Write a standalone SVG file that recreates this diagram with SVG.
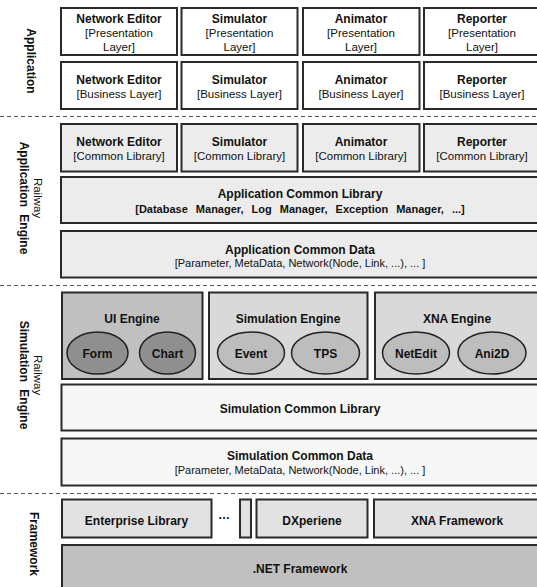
<svg xmlns="http://www.w3.org/2000/svg" width="537" height="587" viewBox="0 0 537 587">
<style>
text{font-family:"Liberation Sans",Arial,sans-serif;fill:#111;text-anchor:middle}
.t{font-size:12px;font-weight:bold}
.s{font-size:11.5px}
.sb{font-size:11px;font-weight:bold;word-spacing:5px}
.x{font-size:11px}
.lbl{font-size:12px;font-weight:bold}
.lbn{font-size:11.5px}
rect{stroke:#2a2a2a;stroke-width:2}
ellipse{stroke:#222;stroke-width:1.5}
.w{fill:#fff}
.g1{fill:#ececec}
.g2{fill:#c0c0c0}
.g3{fill:#d9d9d9}
.g4{fill:#f7f7f7}
.g5{fill:#e2e2e2}
.e1{fill:#8f8f8f}
.e2{fill:#bdbdbd}
.dash{stroke:#555;stroke-width:1.2;stroke-dasharray:4 3;fill:none}
</style>
<g id="separators">
<line class="dash" x1="0" y1="116.5" x2="537" y2="116.5"/>
<line class="dash" x1="0" y1="285.5" x2="537" y2="285.5"/>
<line class="dash" x1="0" y1="493.5" x2="537" y2="493.5"/>
</g>
<g id="layer-labels">
<text class="lbl" transform="translate(27,61) rotate(90)">Application</text>
<text transform="translate(28,198) rotate(90)"><tspan class="lbn" x="0" y="-6">Railway</tspan><tspan class="lbl" x="0" y="8" style="word-spacing:4px">Application Engine</tspan></text>
<text transform="translate(28,375) rotate(90)"><tspan class="lbn" x="0" y="-6">Railway</tspan><tspan class="lbl" x="0" y="8" style="word-spacing:4px">Simulation Engine</tspan></text>
<text class="lbl" transform="translate(30,544) rotate(90)">Framework</text>
</g>
<g id="ne-pres"><rect class="w" x="61" y="8" width="116" height="47"/><text class="t" x="119" y="23">Network Editor</text><text class="s" x="119" y="37">[Presentation</text><text class="s" x="119" y="50.5">Layer]</text></g>
<g id="sim-pres"><rect class="w" x="181.5" y="8" width="116" height="47"/><text class="t" x="239.5" y="23">Simulator</text><text class="s" x="239.5" y="37">[Presentation</text><text class="s" x="239.5" y="50.5">Layer]</text></g>
<g id="ani-pres"><rect class="w" x="303" y="8" width="116.5" height="47"/><text class="t" x="361" y="23">Animator</text><text class="s" x="361" y="37">[Presentation</text><text class="s" x="361" y="50.5">Layer]</text></g>
<g id="rep-pres"><rect class="w" x="424" y="8" width="117" height="47"/><text class="t" x="482" y="23">Reporter</text><text class="s" x="482" y="37">[Presentation</text><text class="s" x="482" y="50.5">Layer]</text></g>
<g id="ne-bus"><rect class="w" x="61" y="62" width="116" height="47"/><text class="t" x="119" y="84">Network Editor</text><text class="s" x="119" y="98">[Business Layer]</text></g>
<g id="sim-bus"><rect class="w" x="181.5" y="62" width="116" height="47"/><text class="t" x="239.5" y="84">Simulator</text><text class="s" x="239.5" y="98">[Business Layer]</text></g>
<g id="ani-bus"><rect class="w" x="303" y="62" width="116.5" height="47"/><text class="t" x="361" y="84">Animator</text><text class="s" x="361" y="98">[Business Layer]</text></g>
<g id="rep-bus"><rect class="w" x="424" y="62" width="117" height="47"/><text class="t" x="482" y="84">Reporter</text><text class="s" x="482" y="98">[Business Layer]</text></g>
<g id="ne-common"><rect class="g1" x="61" y="124" width="116" height="47.5"/><text class="t" x="119" y="146">Network Editor</text><text class="s" x="119" y="160">[Common Library]</text></g>
<g id="sim-common"><rect class="g1" x="181.5" y="124" width="116" height="47.5"/><text class="t" x="239.5" y="146">Simulator</text><text class="s" x="239.5" y="160">[Common Library]</text></g>
<g id="ani-common"><rect class="g1" x="303" y="124" width="116.5" height="47.5"/><text class="t" x="361" y="146">Animator</text><text class="s" x="361" y="160">[Common Library]</text></g>
<g id="rep-common"><rect class="g1" x="424" y="124" width="117" height="47.5"/><text class="t" x="482" y="146">Reporter</text><text class="s" x="482" y="160">[Common Library]</text></g>
<g id="app-common-library"><rect class="g1" x="61" y="177" width="480" height="46"/><text class="t" x="300" y="197.5">Application Common Library</text><text class="sb" x="300" y="213">[Database Manager, Log Manager, Exception Manager, ...]</text></g>
<g id="app-common-data"><rect class="g1" x="61" y="231" width="480" height="46.5"/><text class="t" x="300" y="253.5">Application Common Data</text><text class="x" x="300" y="266.5">[Parameter, MetaData, Network(Node, Link, ...), ... ]</text></g>
<g id="ui-engine"><rect class="g2" x="62" y="292.5" width="140.5" height="86.5"/><text class="t" x="132" y="322.5">UI Engine</text>
<ellipse class="e1" cx="97.5" cy="353" rx="30.5" ry="21"/><text class="t" x="97.5" y="357.5">Form</text>
<ellipse class="e1" cx="167.5" cy="353" rx="28" ry="21"/><text class="t" x="167.5" y="357.5">Chart</text></g>
<g id="simulation-engine"><rect class="g3" x="209" y="292.5" width="158.5" height="86.5"/><text class="t" x="288" y="322.5">Simulation Engine</text>
<ellipse class="e2" cx="251" cy="353" rx="33.5" ry="21"/><text class="t" x="251" y="357.5">Event</text>
<ellipse class="e2" cx="325.5" cy="353" rx="34" ry="21"/><text class="t" x="325.5" y="357.5">TPS</text></g>
<g id="xna-engine"><rect class="g3" x="375" y="292.5" width="166" height="86.5"/><text class="t" x="457" y="322.5">XNA Engine</text>
<ellipse class="e2" cx="416" cy="353" rx="33.5" ry="21"/><text class="t" x="416" y="357.5">NetEdit</text>
<ellipse class="e2" cx="492" cy="353" rx="34" ry="21"/><text class="t" x="492" y="357.5">Ani2D</text></g>
<g id="sim-common-library"><rect class="g4" x="61.5" y="384.5" width="479.5" height="46"/><text class="t" x="300" y="412.5">Simulation Common Library</text></g>
<g id="sim-common-data"><rect class="g4" x="61.5" y="438.5" width="479.5" height="47"/><text class="t" x="300" y="460">Simulation Common Data</text><text class="x" x="300" y="473.5">[Parameter, MetaData, Network(Node, Link, ...), ... ]</text></g>
<g id="enterprise-library"><rect class="g5" x="62" y="499.5" width="149.5" height="38"/><text class="t" x="136.5" y="524.5">Enterprise Library</text></g>
<g id="ellipsis"><text class="t" x="224" y="519">…</text></g>
<g id="small-box"><rect class="g5" x="240" y="499.5" width="11" height="38"/></g>
<g id="dxperiene"><rect class="g5" x="256.5" y="499.5" width="111" height="38"/><text class="t" x="312" y="524.5">DXperiene</text></g>
<g id="xna-framework"><rect class="g5" x="374" y="499.5" width="167" height="38"/><text class="t" x="457" y="524.5">XNA Framework</text></g>
<g id="net-framework"><rect class="g2" x="62" y="545" width="479" height="46"/><text class="t" x="300" y="573">.NET Framework</text></g>
</svg>
